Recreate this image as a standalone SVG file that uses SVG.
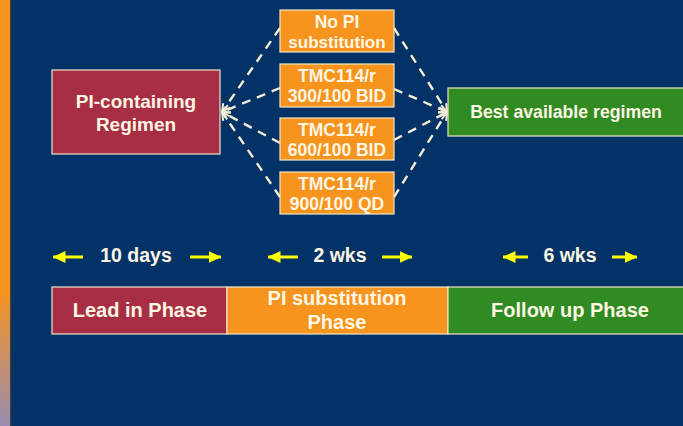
<svg xmlns="http://www.w3.org/2000/svg" width="683" height="426" viewBox="0 0 683 426">
<defs>
<linearGradient id="bar" x1="0" y1="0" x2="0" y2="1">
<stop offset="0" stop-color="#F7941D"/>
<stop offset="0.68" stop-color="#F7941D"/>
<stop offset="1" stop-color="#9A8CB2"/>
</linearGradient>
<marker id="open" viewBox="0 0 10 10" refX="9" refY="5" markerWidth="10" markerHeight="10" markerUnits="userSpaceOnUse" orient="auto">
<path d="M1,1 L9,5 L1,9" fill="none" stroke="#F5EDD5" stroke-width="2"/>
</marker>
<marker id="yl" viewBox="0 0 13 12" refX="12.5" refY="6" markerWidth="13" markerHeight="12" markerUnits="userSpaceOnUse" orient="auto">
<path d="M0,0 L13,6 L0,12 Z" fill="#FFFF00"/>
</marker>
</defs>
<style>
.t{font-family:"Liberation Sans",Arial,sans-serif;font-weight:bold;fill:#FFF6E4;text-anchor:middle}
.box{stroke:#F0E6C8;stroke-width:1.2}
.red{fill:#A82E45}
.org{fill:#F7941E}
.grn{fill:#2F8B22}
.dash{fill:none;stroke:#F5EDD5;stroke-width:2.4;stroke-dasharray:9 7;marker-end:url(#open)}
.ya{stroke:#FFFF00;stroke-width:3;marker-end:url(#yl)}
</style>
<rect width="683" height="426" fill="#033366"/>
<rect x="0" y="0" width="10" height="426" fill="url(#bar)"/>
<rect x="10" y="0" width="1.5" height="426" fill="#3A3A3A"/>

<g id="connectors">
<path class="dash" d="M280,28 L222,112"/>
<path class="dash" d="M280,88 L222,112"/>
<path class="dash" d="M280,143 L222,112"/>
<path class="dash" d="M280,197 L222,112"/>
<path class="dash" d="M394,28 L447,112"/>
<path class="dash" d="M394,89 L447,112"/>
<path class="dash" d="M394,140 L447,112"/>
<path class="dash" d="M394,197 L447,112"/>
</g>

<g id="pi-containing">
<rect class="box red" x="52" y="70" width="168" height="84"/>
<text class="t" x="136" y="108" font-size="19">PI-containing</text>
<text class="t" x="136" y="131" font-size="19">Regimen</text>
</g>
<g id="no-pi">
<rect class="box org" x="280" y="10" width="114" height="42"/>
<text class="t" x="337" y="28" font-size="17.5">No PI</text>
<text class="t" x="337" y="48" font-size="17">substitution</text>
</g>
<g id="tmc300">
<rect class="box org" x="280" y="64" width="114" height="43"/>
<text class="t" x="337" y="82" font-size="17.5">TMC114/r</text>
<text class="t" x="337" y="102" font-size="17.5">300/100 BID</text>
</g>
<g id="tmc600">
<rect class="box org" x="280" y="118" width="114" height="42"/>
<text class="t" x="337" y="136" font-size="17.5">TMC114/r</text>
<text class="t" x="337" y="156" font-size="17.5">600/100 BID</text>
</g>
<g id="tmc900">
<rect class="box org" x="280" y="172" width="114" height="42"/>
<text class="t" x="337" y="190" font-size="17.5">TMC114/r</text>
<text class="t" x="337" y="210" font-size="17.5">900/100 QD</text>
</g>
<g id="best">
<rect class="box grn" x="448" y="88" width="245" height="48"/>
<text class="t" x="566" y="118" font-size="17.7">Best available regimen</text>
</g>

<g id="durations">
<line class="ya" x1="83" y1="257" x2="53" y2="257"/>
<text class="t" x="136" y="262" font-size="19.5">10 days</text>
<line class="ya" x1="190" y1="257" x2="221" y2="257"/>
<line class="ya" x1="298" y1="257" x2="268" y2="257"/>
<text class="t" x="340" y="262" font-size="19.5">2 wks</text>
<line class="ya" x1="382" y1="257" x2="412" y2="257"/>
<line class="ya" x1="528" y1="257" x2="503" y2="257"/>
<text class="t" x="570" y="262" font-size="19.5">6 wks</text>
<line class="ya" x1="612" y1="257" x2="637" y2="257"/>
</g>

<g id="lead-in">
<rect class="box red" x="52" y="287" width="175" height="47"/>
<text class="t" x="140" y="317" font-size="20">Lead in Phase</text>
</g>
<g id="pi-sub">
<rect class="box org" x="227" y="287" width="221" height="47"/>
<text class="t" x="337" y="305" font-size="20">PI substitution</text>
<text class="t" x="337" y="329" font-size="20">Phase</text>
</g>
<g id="follow-up">
<rect class="box grn" x="448" y="287" width="245" height="47"/>
<text class="t" x="570" y="317" font-size="20">Follow up Phase</text>
</g>
</svg>
